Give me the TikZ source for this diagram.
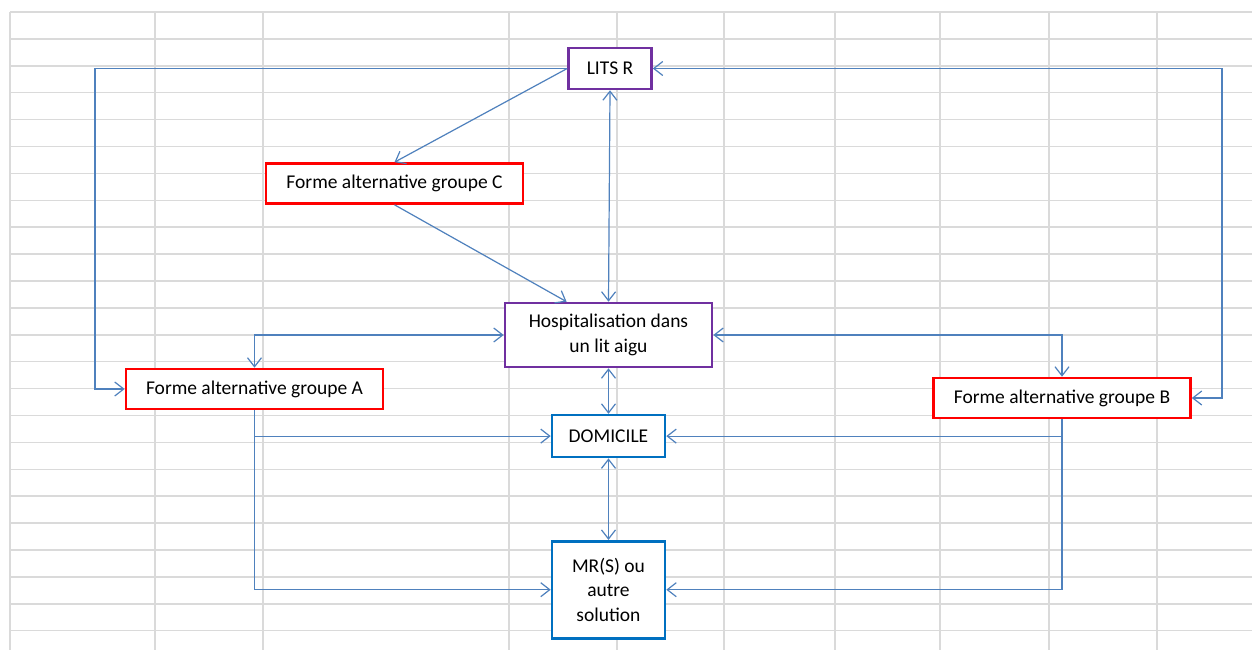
\documentclass[tikz,border=0pt]{standalone}
\usepackage{fontspec}
\setmainfont{Carlito}
\usetikzlibrary{arrows.meta,positioning,calc}

\definecolor{linkblue}{RGB}{79,129,189}
\definecolor{gridgray}{RGB}{218,218,218}
\definecolor{boxred}{RGB}{255,0,0}
\definecolor{boxpurple}{RGB}{112,48,160}
\definecolor{boxblue}{RGB}{0,112,192}

\begin{document}
\begin{tikzpicture}[
  x=1pt, y=-1pt,
  font=\fontsize{19.5}{24.5}\selectfont,
  gridline/.style={gridgray, line width=1.5pt},
  formbox/.style={
    draw=boxred, line width=2.6pt, fill=white, inner sep=0pt,
    minimum height=40pt, minimum width=257pt
  },
  bedbox/.style={
    draw=boxpurple, line width=2.6pt, fill=white, inner sep=0pt, align=center
  },
  homebox/.style={
    draw=boxblue, line width=2.6pt, fill=white, inner sep=0pt, align=center,
    minimum width=113pt
  },
  arr/.style={-{Straight Barb[length=9pt,width=14pt]}, linkblue, line width=1.2pt},
  arrboth/.style={{Straight Barb[length=9pt,width=14pt]}-{Straight Barb[length=9pt,width=14pt]}, linkblue, line width=1.2pt}
]
% sheet background
\fill[white] (0,0) rectangle (1252,650);
\useasboundingbox (0,0) rectangle (1252,650);
\foreach \k in {0,...,23}
  \draw[gridline] (10,{12+26.9*\k}) -- (1252,{12+26.9*\k});
\foreach \gx in {10,155,263,509,617,724,835,940,1049,1157}
  \draw[gridline] (\gx,12) -- (\gx,650);

% boxes
\node[bedbox, minimum width=83pt, minimum height=41pt] (litsr) at (610,68.5) {LITS R};
\node[formbox] (formeC) at (394.5,183.5) {Forme alternative groupe C};
\node[bedbox, minimum width=207pt, minimum height=64pt] (hosp) at (608.5,335) {Hospitalisation dans\\un lit aigu};
\node[formbox] (formeA) at (254.5,389) {Forme alternative groupe A};
\node[formbox] (formeB) at (1062,398) {Forme alternative groupe B};
\node[homebox, minimum height=42pt, below=45.5pt of hosp] (dom) {DOMICILE};
\node[homebox, minimum height=97pt, below=81.5pt of dom] (mrs) {MR(S) ou\\autre\\solution};

% corners of the outer loops
\coordinate (cL) at (95,0);
\coordinate (cR) at (1222,0);

% links
\draw[arr] (litsr.west) -- (litsr.west -| cL) |- (formeA.west);
\draw[arrboth] (formeB.east) -- (formeB.east -| cR) |- (litsr.east);
\draw[arr] (litsr.west) -- (formeC.north);
\draw[arr] (formeC.south) -- ($(hosp.north west)!0.3!(hosp.north east)$);
\draw[arrboth] (litsr.south) -- (hosp.north);
\draw[arrboth] (hosp.west) -| (formeA.north);
\draw[arrboth] (hosp.east) -| (formeB.north);
\draw[arrboth] (hosp.south) -- (dom.north);
\draw[arr] (formeA.south) |- (dom.west);
\draw[arr] (formeA.south) |- (mrs.west);
\draw[arr] (formeB.south) |- (dom.east);
\draw[arr] (formeB.south) |- (mrs.east);
\draw[arrboth] (dom.south) -- (mrs.north);
\end{tikzpicture}
\end{document}
